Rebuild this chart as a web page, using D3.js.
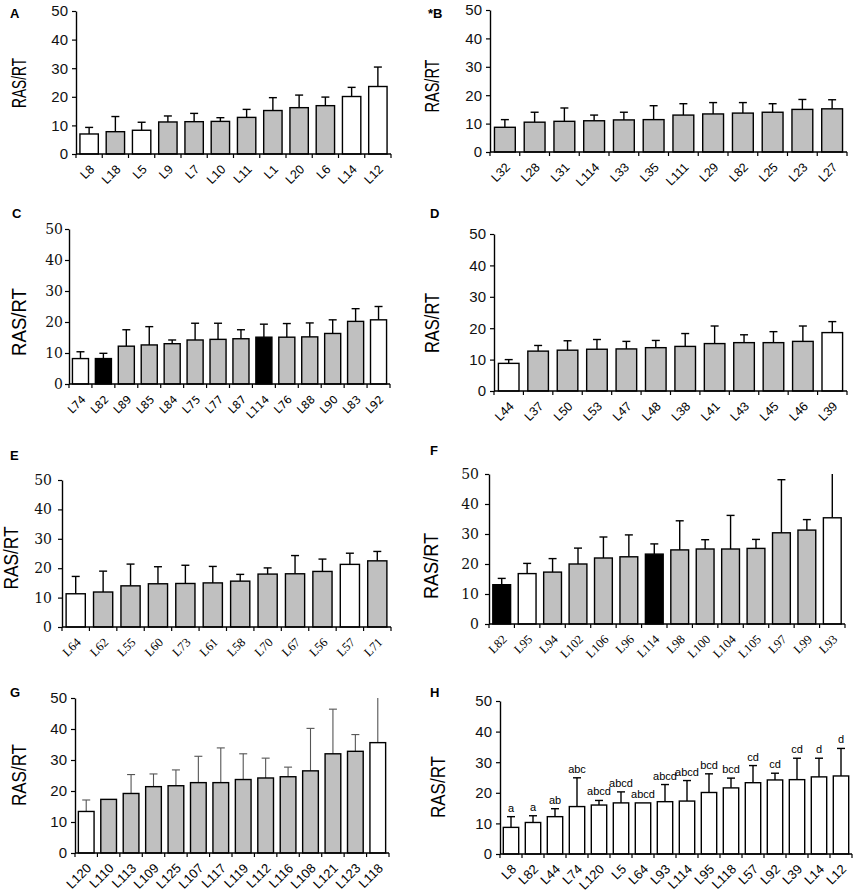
<!DOCTYPE html>
<html lang="en">
<head>
    <meta charset="UTF-8">
    <title>RAS/RT by line</title>
    <script src="https://d3js.org/d3.v7.min.js"></script>
    <style>
        body { margin: 0; background: #fff; }
        svg { display: block; }
        .panel-letter { font-family: "Liberation Sans", Arial, sans-serif; font-weight: bold; font-size: 13px; }
        .ylab { font-family: "Liberation Sans", Arial, sans-serif; }
        .sig { font-family: "Liberation Sans", Arial, sans-serif; font-size: 11px; }
    </style>
</head>
<body>
<svg width="856" height="896"></svg>

<script>
    // ---- data (mean RAS/RT and upper error) ----
    const aCats = ["L8", "L18", "L5", "L9", "L7", "L10", "L11", "L1", "L20", "L6", "L14", "L12"];
    const aMeans = [7.0, 7.8, 8.3, 11.2, 11.3, 11.4, 12.8, 15.2, 16.2, 16.9, 20.1, 23.6];
    const aErrs = [2.3, 5.3, 2.8, 2.1, 2.9, 1.3, 2.8, 4.5, 4.4, 3.0, 3.2, 6.8];
    const aGroups = ["w", "g", "w", "g", "g", "g", "g", "g", "g", "g", "w", "w"];

    const bCats = ["L32", "L28", "L31", "L114", "L33", "L35", "L111", "L29", "L82", "L25", "L23", "L27"];
    const bMeans = [8.7, 10.5, 10.8, 11.0, 11.3, 11.4, 13.0, 13.4, 13.7, 14.0, 15.0, 15.2];
    const bErrs = [2.7, 3.5, 4.7, 2.0, 2.7, 4.9, 4.0, 4.0, 3.7, 3.0, 3.5, 3.2];
    const bGroups = ["g", "g", "g", "g", "g", "g", "g", "g", "g", "g", "g", "g"];

    const cCats = ["L74", "L82", "L89", "L85", "L84", "L75", "L77", "L87", "L114", "L76", "L88", "L90", "L83", "L92"];
    const cMeans = [8.2, 8.2, 12.2, 12.6, 13.0, 14.2, 14.4, 14.6, 15.1, 15.1, 15.2, 16.3, 20.2, 20.7];
    const cErrs = [2.2, 1.7, 5.3, 5.9, 1.2, 5.4, 5.2, 2.9, 4.2, 4.4, 4.5, 4.4, 4.1, 4.3];
    const cGroups = ["w", "k", "g", "g", "g", "g", "g", "g", "k", "g", "g", "g", "g", "w"];

    const dCats = ["L44", "L37", "L50", "L53", "L47", "L48", "L38", "L41", "L43", "L45", "L46", "L39"];
    const dMeans = [8.8, 12.7, 13.0, 13.3, 13.4, 13.8, 14.2, 15.1, 15.4, 15.4, 15.8, 18.6];
    const dErrs = [1.2, 1.8, 3.0, 3.1, 2.4, 2.3, 4.1, 5.6, 2.5, 3.5, 4.9, 3.5];
    const dGroups = ["w", "g", "g", "g", "g", "g", "g", "g", "g", "g", "g", "w"];

    const eCats = ["L64", "L62", "L55", "L60", "L73", "L61", "L58", "L70", "L67", "L56", "L57", "L71"];
    const eMeans = [11.3, 11.9, 14.0, 14.7, 14.8, 15.0, 15.6, 18.0, 18.1, 18.9, 21.3, 22.5];
    const eErrs = [5.9, 7.1, 7.4, 5.8, 6.2, 5.6, 2.3, 2.1, 6.2, 4.2, 3.8, 3.2];
    const eGroups = ["w", "g", "g", "g", "g", "g", "g", "g", "g", "g", "w", "g"];

    const fCats = ["L82", "L95", "L94", "L102", "L106", "L96", "L114", "L98", "L100", "L104", "L105", "L97", "L99", "L93"];
    const fMeans = [13.1, 16.8, 17.3, 20.0, 22.0, 22.4, 23.3, 24.7, 25.0, 25.0, 25.2, 30.4, 31.3, 35.4];
    const fErrs = [2.1, 3.4, 4.5, 5.3, 7.0, 7.3, 3.4, 9.7, 3.1, 11.2, 3.0, 17.7, 3.5, 17.0];
    const fGroups = ["k", "w", "g", "g", "g", "g", "k", "g", "g", "g", "g", "g", "g", "w"];

    const gCats = ["L120", "L110", "L113", "L109", "L125", "L107", "L117", "L119", "L112", "L116", "L108", "L121", "L123", "L118"];
    const gMeans = [13.4, 17.3, 19.2, 21.4, 21.7, 22.7, 22.7, 23.7, 24.2, 24.6, 26.5, 32.0, 32.8, 35.6];
    const gErrs = [3.7, 0, 6.1, 4.1, 5.1, 8.5, 11.2, 8.3, 6.4, 3.1, 13.7, 14.4, 5.4, 16.5];
    const gGroups = ["w", "g", "g", "g", "g", "g", "g", "g", "g", "g", "g", "g", "g", "w"];

    const hCats = ["L8", "L82", "L44", "L74", "L120", "L5", "L64", "L93", "L114", "L95", "L118", "L57", "L92", "L39", "L14", "L12"];
    const hMeans = [8.7, 10.3, 12.2, 15.5, 16.0, 16.7, 16.7, 17.1, 17.3, 20.1, 21.6, 23.3, 24.2, 24.3, 25.2, 25.5];
    const hErrs = [3.5, 2.2, 2.6, 9.4, 1.5, 3.6, 0, 5.6, 6.7, 6.1, 3.2, 5.6, 2.2, 7.0, 6.1, 9.0];
    const hGroups = ["w", "w", "w", "w", "w", "w", "w", "w", "w", "w", "w", "w", "w", "w", "w", "w"];
    const hLetters = ["a", "a", "ab", "abc", "abcd", "abcd", "abcd", "abcd", "abcd", "bcd", "bcd", "cd", "cd", "cd", "d", "d"];

    const yTicks = [0, 10, 20, 30, 40, 50];
    const yMax = 50;

    const fillFor = { w: "#ffffff", g: "#c0c0c0", k: "#000000" };

    const SANS = "Liberation Sans, Arial, sans-serif";
    const SERIF = "DejaVu Serif, Cambria, serif";
    const LSERIF = "Liberation Serif, serif";
    const VERD = "DejaVu Sans, Verdana, sans-serif";

    // ---- panel layout ----
    const panels = [
        { title: "A", cats: aCats, means: aMeans, errs: aErrs, groups: aGroups,
          x0: 76, x1: 391, yTop: 11, yBot: 154, tx: 10, ty: 18,
          lab: { x: 19, y: 83, len: 50 }, tickFont: SANS, tickSize: 15, catFont: SANS, catSize: 12.5 },
        { title: "*B", cats: bCats, means: bMeans, errs: bErrs, groups: bGroups,
          x0: 490, x1: 847, yTop: 10, yBot: 152, tx: 428, ty: 18,
          lab: { x: 432, y: 86, len: 53 }, tickFont: SANS, tickSize: 15, catFont: SANS, catSize: 12.5 },
        { title: "C", cats: cCats, means: cMeans, errs: cErrs, groups: cGroups,
          x0: 69, x1: 390, yTop: 229, yBot: 384, tx: 12, ty: 218,
          lab: { x: 19, y: 322, len: 68 }, tickFont: SERIF, tickSize: 14, tickPad: 2, catFont: VERD, catSize: 11 },
        { title: "D", cats: dCats, means: dMeans, errs: dErrs, groups: dGroups,
          x0: 494, x1: 847, yTop: 234, yBot: 391, tx: 430, ty: 218,
          lab: { x: 432, y: 323, len: 60 }, tickFont: SANS, tickSize: 15, catFont: SANS, catSize: 12.5 },
        { title: "E", cats: eCats, means: eMeans, errs: eErrs, groups: eGroups,
          x0: 62, x1: 391, yTop: 480, yBot: 627, tx: 10, ty: 460,
          lab: { x: 11, y: 558, len: 63 }, tickFont: SERIF, tickSize: 14, tickPad: 6, catFont: LSERIF, catSize: 12.5 },
        { title: "F", cats: fCats, means: fMeans, errs: fErrs, groups: fGroups,
          x0: 489, x1: 845, yTop: 474, yBot: 624, tx: 430, ty: 455,
          lab: { x: 431, y: 566, len: 66 }, tickFont: SERIF, tickSize: 14, tickPad: 6, catFont: LSERIF, catSize: 12.5 },
        { title: "G", cats: gCats, means: gMeans, errs: gErrs, groups: gGroups,
          x0: 75, x1: 389, yTop: 698, yBot: 853, tx: 10, ty: 697, errColor: "#555", errWidth: 1.1,
          lab: { x: 19, y: 775, len: 62 }, tickFont: SANS, tickSize: 15, catFont: SANS, catSize: 13 },
        { title: "H", cats: hCats, means: hMeans, errs: hErrs, groups: hGroups, letters: hLetters,
          x0: 500, x1: 852, yTop: 701, yBot: 854, tx: 430, ty: 697,
          lab: { x: 438, y: 787, len: 62 }, tickFont: SANS, tickSize: 15, catFont: SANS, catSize: 13 }
    ];

    const svg = d3.select("svg");

    panels.forEach(p => drawPanel(p));

    function drawPanel(p) {
        const g = svg.append("g");

        const x = d3.scaleBand()
            .domain(p.cats)
            .range([p.x0, p.x1])
            .paddingInner(0.3)
            .paddingOuter(0.15);

        const y = d3.scaleLinear()
            .domain([0, yMax])
            .range([p.yBot, p.yTop]);

        const cx = c => x(c) + x.bandwidth() / 2;

        const rows = p.cats.map((c, i) => ({
            cat: c, mean: p.means[i], err: p.errs[i], group: p.groups[i],
            letter: p.letters ? p.letters[i] : null
        }));

        // error bars (upper only), drawn first so the bar covers the stem
        const errColor = p.errColor || "#000";
        const errWidth = p.errWidth || 1.4;
        const eb = g.append("g").selectAll("g")
            .data(rows.filter(d => d.err > 0))
            .join("g");

        eb.append("line")
            .attr("x1", d => cx(d.cat))
            .attr("x2", d => cx(d.cat))
            .attr("y1", d => y(d.mean))
            .attr("y2", d => y(Math.min(d.mean + d.err, yMax)))
            .attr("stroke", errColor)
            .attr("stroke-width", errWidth);

        // caps only when the bar stays inside the axis
        eb.filter(d => d.mean + d.err < yMax)
            .append("line")
            .attr("x1", d => cx(d.cat) - 4)
            .attr("x2", d => cx(d.cat) + 4)
            .attr("y1", d => y(d.mean + d.err))
            .attr("y2", d => y(d.mean + d.err))
            .attr("stroke", errColor)
            .attr("stroke-width", errWidth);

        // bars
        g.append("g").selectAll("rect")
            .data(rows)
            .join("rect")
            .attr("x", d => x(d.cat))
            .attr("width", x.bandwidth())
            .attr("y", d => y(d.mean))
            .attr("height", d => y(0) - y(d.mean))
            .attr("fill", d => fillFor[d.group])
            .attr("stroke", "#000")
            .attr("stroke-width", 1.4);

        // significance letters (panel H)
        if (p.letters) {
            g.append("g").selectAll("text")
                .data(rows)
                .join("text")
                .attr("class", "sig")
                .attr("x", d => cx(d.cat))
                .attr("y", d => y(d.mean + d.err) - 5)
                .attr("text-anchor", "middle")
                .text(d => d.letter);
        }

        // y axis
        const yAxis = g.append("g")
            .attr("transform", `translate(${p.x0},0)`)
            .call(d3.axisLeft(y).tickValues(yTicks).tickSize(4).tickPadding(p.tickPad || 4).tickSizeOuter(0));
        yAxis.select(".domain").attr("stroke-width", 1.4);
        yAxis.selectAll(".tick line").attr("stroke-width", 1.2);
        yAxis.selectAll("text")
            .attr("font-family", p.tickFont)
            .attr("font-size", p.tickSize)
            .attr("fill", "#111");

        // x axis: line plus ticks at band boundaries
        const xAxis = g.append("g");
        xAxis.append("line")
            .attr("x1", p.x0).attr("x2", p.x1)
            .attr("y1", p.yBot).attr("y2", p.yBot)
            .attr("stroke", "#000").attr("stroke-width", 1.4);

        const bounds = d3.range(p.cats.length + 1).map(i => p.x0 + i * x.step());
        xAxis.selectAll(".bt")
            .data(bounds)
            .join("line")
            .attr("class", "bt")
            .attr("x1", d => d).attr("x2", d => d)
            .attr("y1", p.yBot).attr("y2", p.yBot + 4)
            .attr("stroke", "#000").attr("stroke-width", 1.2);

        // category labels, slanted 45 degrees
        xAxis.selectAll(".cat")
            .data(rows)
            .join("text")
            .attr("class", "cat")
            .attr("font-family", p.catFont)
            .attr("font-size", p.catSize)
            .attr("text-anchor", "end")
            .attr("x", d => cx(d.cat) + 6)
            .attr("y", p.yBot + 16)
            .attr("transform", d => `rotate(-45 ${cx(d.cat) + 6} ${p.yBot + 16})`)
            .text(d => d.cat);

        // y label
        g.append("text")
            .attr("class", "ylab")
            .attr("transform", `translate(${p.lab.x},${p.lab.y}) rotate(-90)`)
            .attr("text-anchor", "middle")
            .attr("dy", "0.36em")
            .attr("font-size", 20)
            .attr("textLength", p.lab.len)
            .attr("lengthAdjust", "spacingAndGlyphs")
            .text("RAS/RT");

        // panel letter
        g.append("text")
            .attr("class", "panel-letter")
            .attr("x", p.tx)
            .attr("y", p.ty)
            .text(p.title);
    }
</script>
</body>
</html>
